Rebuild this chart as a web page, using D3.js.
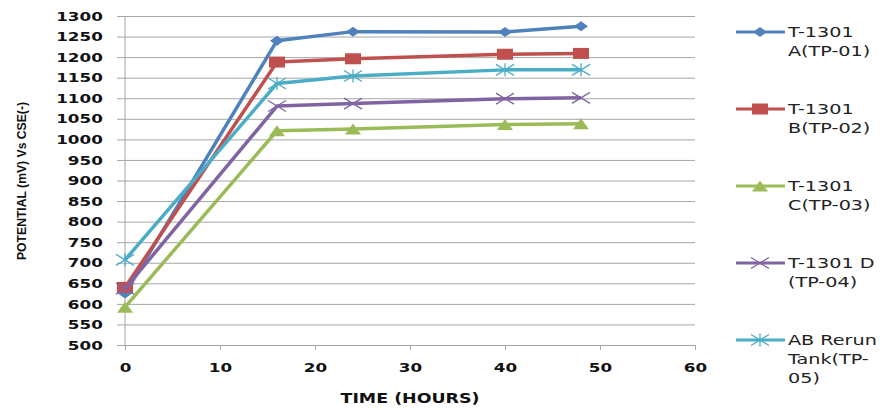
<!DOCTYPE html>
<html>
<head>
<title>Potential vs Time</title>
<script src="https://cdn.jsdelivr.net/npm/d3@7"></script>
<style>
  body { margin: 0; background: #fff; }
</style>
</head>
<body>
<div id="chart"></div>
<script>

// data
var hours = [0, 16, 24, 40, 48];
var seriesNames = ["T-1301 A(TP-01)", "T-1301 B(TP-02)", "T-1301 C(TP-03)", "T-1301 D (TP-04)", "AB Rerun Tank(TP-05)"];
var tp01 = [625, 1240, 1262, 1261, 1275];
var tp02 = [640, 1188, 1196, 1207, 1209];
var tp03 = [592, 1021, 1025, 1036, 1038];
var tp04 = [637, 1081, 1087, 1099, 1101];
var tp05 = [707, 1136, 1154, 1169, 1169];
var xTicks = [0, 10, 20, 30, 40, 50, 60];
var yTicks = [500, 550, 600, 650, 700, 750, 800, 850, 900, 950, 1000, 1050, 1100, 1150, 1200, 1250, 1300];
var legendLines = [["T-1301", "A(TP-01)"], ["T-1301", "B(TP-02)"], ["T-1301", "C(TP-03)"], ["T-1301 D", "(TP-04)"], ["AB Rerun", "Tank(TP-", "05)"]];

var colors = ["#4f81bd", "#c0504d", "#9bbb59", "#8064a2", "#4bacc6"];
var shapes = ["diamond", "square", "triangle", "cross", "star"];
var values = [tp01, tp02, tp03, tp04, tp05];

var W = 880, H = 410;
var svg = d3.select("#chart").append("svg")
    .attr("width", W)
    .attr("height", H);

var x = d3.scaleLinear().domain([0, 60]).range([125, 695]);
var y = d3.scaleLinear().domain([500, 1300]).range([345, 16]);

var gridColor = "#a6a6a6";

// y axis + gridlines
var yAxis = svg.append("g")
    .attr("transform", "translate(117,0)")
    .call(d3.axisLeft(y).tickValues(yTicks).tickFormat(d3.format("d"))
      .tickSizeInner(-(695 - 117)).tickSizeOuter(0).tickPadding(11));
yAxis.select(".domain").remove();
yAxis.selectAll(".tick line").attr("stroke", gridColor);
yAxis.selectAll(".tick text")
    .attr("transform", "scale(1.29,1)")
    .style("font-family", "DejaVu Sans")
    .style("font-weight", "bold")
    .style("font-size", "13px")
    .attr("fill", "#111");

// vertical axis line
svg.append("line")
    .attr("x1", x(0)).attr("x2", x(0))
    .attr("y1", y(1300)).attr("y2", y(500))
    .attr("stroke", gridColor);

// x axis
var xAxis = svg.append("g")
    .attr("transform", "translate(0," + y(500) + ")")
    .call(d3.axisBottom(x).tickValues(xTicks).tickSize(5).tickSizeOuter(0).tickPadding(13));
xAxis.select(".domain").attr("stroke", gridColor);
xAxis.selectAll(".tick line").attr("stroke", gridColor);
xAxis.selectAll(".tick text")
    .attr("transform", "scale(1.29,1)")
    .style("font-family", "DejaVu Sans")
    .style("font-weight", "bold")
    .style("font-size", "13px")
    .attr("fill", "#111");

// axis titles
svg.append("text")
    .attr("x", 410).attr("y", 403)
    .attr("text-anchor", "middle")
    .attr("textLength", 139)
    .attr("lengthAdjust", "spacingAndGlyphs")
    .style("font-family", "DejaVu Sans")
    .style("font-weight", "bold")
    .style("font-size", "14px")
    .attr("fill", "#111")
    .text("TIME (HOURS)");

svg.append("text")
    .attr("transform", "translate(26,181) rotate(-90)")
    .attr("text-anchor", "middle")
    .attr("textLength", 158)
    .attr("lengthAdjust", "spacingAndGlyphs")
    .style("font-family", "Liberation Sans Narrow, Liberation Sans")
    .style("font-weight", "bold")
    .style("font-size", "13px")
    .attr("fill", "#111")
    .text("POTENTIAL (mV) Vs CSE(-)");

// marker drawing
function marker(g, shape, color, cx, cy) {
  var p;
  if (shape === "diamond") {
    p = "M" + (cx - 7) + "," + cy + "L" + cx + "," + (cy - 5) + "L" + (cx + 7) + "," + cy + "L" + cx + "," + (cy + 5) + "Z";
    g.append("path").attr("d", p).attr("fill", color);
  } else if (shape === "square") {
    g.append("rect").attr("x", cx - 8).attr("y", cy - 5.5).attr("width", 16).attr("height", 11).attr("fill", color);
  } else if (shape === "triangle") {
    p = "M" + (cx - 8) + "," + (cy + 5.5) + "L" + cx + "," + (cy - 5.5) + "L" + (cx + 8) + "," + (cy + 5.5) + "Z";
    g.append("path").attr("d", p).attr("fill", color);
  } else if (shape === "cross") {
    p = "M" + (cx - 9) + "," + (cy - 5.5) + "L" + (cx + 9) + "," + (cy + 5.5) +
        "M" + (cx - 9) + "," + (cy + 5.5) + "L" + (cx + 9) + "," + (cy - 5.5);
    g.append("path").attr("d", p).attr("stroke", color).attr("stroke-width", 1.3).attr("fill", "none");
  } else {
    p = "M" + (cx - 9) + "," + (cy - 5.5) + "L" + (cx + 9) + "," + (cy + 5.5) +
        "M" + (cx - 9) + "," + (cy + 5.5) + "L" + (cx + 9) + "," + (cy - 5.5) +
        "M" + cx + "," + (cy - 6.5) + "L" + cx + "," + (cy + 6.5);
    g.append("path").attr("d", p).attr("stroke", color).attr("stroke-width", 1.3).attr("fill", "none");
  }
}

var line = d3.line()
    .x(function (d, i) { return x(hours[i]); })
    .y(function (d) { return y(d); });

values.forEach(function (vals, s) {
  var g = svg.append("g");
  g.append("path")
      .datum(vals)
      .attr("d", line)
      .attr("fill", "none")
      .attr("stroke", colors[s])
      .attr("stroke-width", 3.5)
      .attr("stroke-linejoin", "round");
  vals.forEach(function (v, i) {
    marker(g, shapes[s], colors[s], x(hours[i]), y(v));
  });
});

// legend
legendLines.forEach(function (lines, s) {
  var base = 37 + s * 77;
  var g = svg.append("g");
  g.append("line")
      .attr("x1", 736).attr("x2", 785)
      .attr("y1", base - 5).attr("y2", base - 5)
      .attr("stroke", colors[s])
      .attr("stroke-width", 3);
  marker(g, shapes[s], colors[s], 760, base - 5);
  lines.forEach(function (t, k) {
    g.append("text")
        .attr("transform", "translate(788," + (base + k * 19) + ") scale(1.37,1)")
        .style("font-family", "DejaVu Sans")
        .style("font-size", "14px")
        .attr("fill", "#222")
        .text(t);
  });
});

</script>
</body>
</html>
